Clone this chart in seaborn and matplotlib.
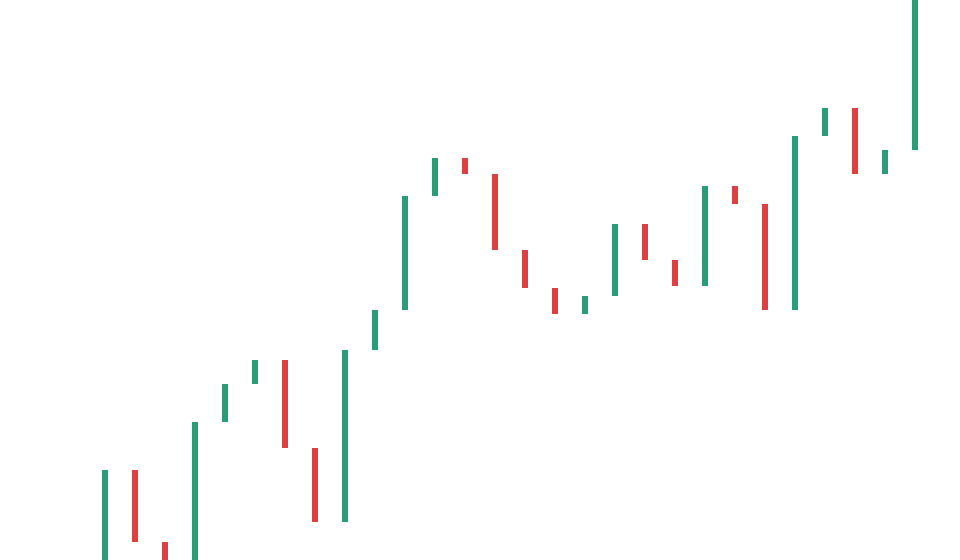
import matplotlib
matplotlib.use("Agg")
import matplotlib.pyplot as plt
import seaborn as sns
import pandas as pd

# open/close prices (first open and last close are guesses, they run off the frame)
opens = [96.0, 109.0, 101.8, 98.0, 113.8, 117.6, 120.0, 111.2, 103.8, 121.0,
         125.0, 136.4, 140.2, 138.6, 131.0, 127.2, 124.6, 126.4, 133.6, 130.0,
         127.4, 137.4, 135.6, 125.0, 142.4, 145.2, 138.6, 141.0]
closes = [109.0, 101.8, 98.0, 113.8, 117.6, 120.0, 111.2, 103.8, 121.0, 125.0,
          136.4, 140.2, 138.6, 131.0, 127.2, 124.6, 126.4, 133.6, 130.0, 127.4,
          137.4, 135.6, 125.0, 142.4, 145.2, 138.6, 141.0, 159.0]
days = list(range(len(opens)))

up_color = "#2a9d78"
down_color = "#dc4040"

df = pd.DataFrame({"day": days, "open": opens, "close": closes})
df["low"] = df[["open", "close"]].min(axis=1)
df["height"] = (df["close"] - df["open"]).abs()
df["color"] = [up_color if c >= o else down_color for o, c in zip(df["open"], df["close"])]

sns.set_theme(style="white")

fig = plt.figure(figsize=(9.6, 5.6), dpi=100)
ax = fig.add_axes([0, 0, 1, 1])
ax.bar(df["day"], df["height"], bottom=df["low"], width=0.2, color=df["color"], linewidth=0)

ax.set_xlim(-3.5, 28.5)
ax.set_ylim(100, 156)
ax.set_axis_off()

fig.savefig("out.png", dpi=100, facecolor="white")
